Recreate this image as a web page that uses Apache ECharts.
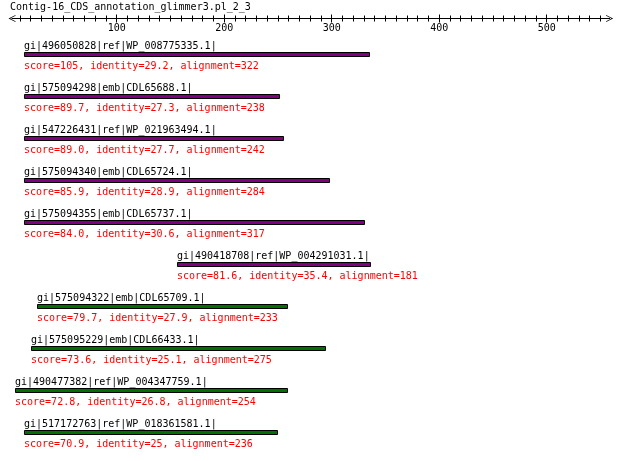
<!DOCTYPE html>
<html>
<head>
<meta charset="utf-8">
<script src="https://cdn.jsdelivr.net/npm/echarts@6/dist/echarts.min.js"></script>
<style>html,body{margin:0;padding:0;background:#fff;}#chart{width:620px;height:461px;}</style>
</head>
<body>
<div id="chart"></div>
<script>
var titleText = 'Contig-16_CDS_annotation_glimmer3.pl_2_3';
var hitNames = [
  'gi|496050828|ref|WP_008775335.1|',
  'gi|575094298|emb|CDL65688.1|',
  'gi|547226431|ref|WP_021963494.1|',
  'gi|575094340|emb|CDL65724.1|',
  'gi|575094355|emb|CDL65737.1|',
  'gi|490418708|ref|WP_004291031.1|',
  'gi|575094322|emb|CDL65709.1|',
  'gi|575095229|emb|CDL66433.1|',
  'gi|490477382|ref|WP_004347759.1|',
  'gi|517172763|ref|WP_018361581.1|'
];
var scores = ['105', '89.7', '89.0', '85.9', '84.0', '81.6', '79.7', '73.6', '72.8', '70.9'];
var identities = ['29.2', '27.3', '27.7', '28.9', '30.6', '35.4', '27.9', '25.1', '26.8', '25'];
var alignments = [322, 238, 242, 284, 317, 181, 233, 275, 254, 236];
var hitStarts = [14, 14, 14, 14, 14, 156, 26, 20, 5, 14];
var hitEnds = [336, 252, 256, 298, 331, 337, 259, 295, 259, 250];
var hitGroups = [1, 1, 1, 1, 1, 1, 2, 2, 2, 2];
var majorTicks = [100, 200, 300, 400, 500];
var axisStart = 2.6;
var axisEnd = 558.5;

var groupColors = {1: '#800080', 2: '#007000'};
var FONT = '10px "DejaVu Sans Mono"';
var minorTicks = [];
for (var t = 10; t <= 550; t += 10) { if (t % 100 !== 0) minorTicks.push(t); }

var data = hitNames.map(function (n, i) {
  return [hitStarts[i], hitEnds[i], i];
});

var chevron = 'path://M5,0 L10,10 L8.8,10 L5,2.4 L1.2,10 L0,10 Z';

function topAxis(ticks, len, inside, main) {
  return {
    type: 'value', position: 'top', offset: 15, min: axisStart, max: axisEnd,
    axisLine: main ? {show: true, lineStyle: {color: '#000', width: 1}, symbol: [chevron, chevron], symbolSize: [10, 7], symbolOffset: [0, 0]} : {show: false},
    axisTick: {show: true, customValues: ticks, length: len, inside: inside, lineStyle: {color: '#000', width: 1}},
    axisLabel: main ? {show: true, customValues: majorTicks, inside: true, margin: 5, color: '#000', fontFamily: 'DejaVu Sans Mono', fontSize: 10} : {show: false},
    splitLine: {show: false}
  };
}

var chart = echarts.init(document.getElementById('chart'), null, {renderer: 'canvas'});
chart.setOption({
  animation: false,
  backgroundColor: '#fff',
  title: {text: titleText, left: 10, top: 2, padding: 0,
    textStyle: {fontFamily: 'DejaVu Sans Mono', fontSize: 10, fontWeight: 'normal', color: '#000'}},
  grid: {left: 12, right: 10.4, top: 33.5, bottom: 7.5},
  xAxis: [
    topAxis(majorTicks, 4, false, true),
    topAxis(majorTicks, 4, true, false),
    topAxis(minorTicks, 3, false, false),
    topAxis(minorTicks, 3, true, false)
  ],
  yAxis: {type: 'category', data: hitNames, inverse: true, show: false},
  series: [{
    type: 'custom',
    xAxisIndex: 0,
    data: data,
    encode: {x: [0, 1], y: 2},
    renderItem: function (params, api) {
      var i = api.value(2);
      var s = api.coord([api.value(0), i]);
      var e = api.coord([api.value(1), i]);
      var cy = s[1];
      var x0 = Math.round(s[0]) + 0.5;
      var x1 = Math.round(e[0]) - 0.5;
      var col = groupColors[hitGroups[i]];
      return {
        type: 'group',
        children: [
          {type: 'rect', shape: {x: x0, y: cy - 2, width: x1 - x0, height: 4},
            style: {fill: col, stroke: '#000', lineWidth: 1}},
          {type: 'text', x: Math.round(s[0]), y: cy - 8,
            style: {text: hitNames[i], font: FONT, fill: '#000', align: 'left', verticalAlign: 'middle'}},
          {type: 'text', x: Math.round(s[0]), y: cy + 12,
            style: {text: 'score=' + scores[i] + ', identity=' + identities[i] + ', alignment=' + alignments[i],
              font: FONT, fill: '#ff0000', align: 'left', verticalAlign: 'middle'}}
        ]
      };
    }
  }]
});
</script>
</body>
</html>
